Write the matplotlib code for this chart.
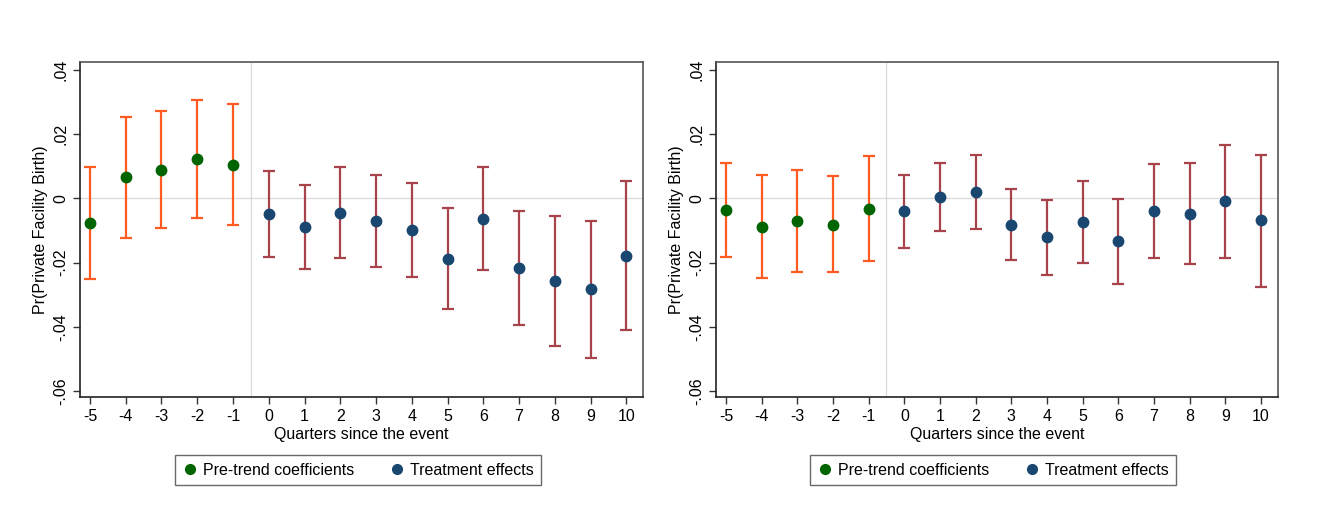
import matplotlib
matplotlib.use("Agg")
import matplotlib.pyplot as plt
from matplotlib.lines import Line2D
import numpy as np

plt.rcParams['font.family'] = ['Liberation Sans', 'DejaVu Sans']

quarters = list(range(-5, 11))

# Left panel
left_coef = [-0.0078, 0.0066, 0.0089, 0.0122, 0.0103,
             -0.0050, -0.0090, -0.0045, -0.0071, -0.0100, -0.0188, -0.0065,
             -0.0217, -0.0259, -0.0283, -0.0179]
left_hi = [0.0096, 0.0254, 0.0272, 0.0305, 0.0293,
           0.0084, 0.0042, 0.0098, 0.0072, 0.0048, -0.0030, 0.0097,
           -0.0041, -0.0055, -0.0072, 0.0053]
left_lo = [-0.0251, -0.0124, -0.0093, -0.0061, -0.0084,
           -0.0183, -0.0219, -0.0185, -0.0213, -0.0246, -0.0346, -0.0224,
           -0.0394, -0.0461, -0.0496, -0.0411]

# Right panel
right_coef = [-0.0036, -0.0090, -0.0071, -0.0082, -0.0032,
              -0.0041, 0.0003, 0.0020, -0.0082, -0.0122, -0.0074, -0.0134,
              -0.0040, -0.0048, -0.0009, -0.0069]
right_hi = [0.0110, 0.0071, 0.0089, 0.0068, 0.0131,
            0.0074, 0.0111, 0.0135, 0.0028, -0.0005, 0.0054, -0.0003,
            0.0107, 0.0110, 0.0166, 0.0136]
right_lo = [-0.0183, -0.0249, -0.0229, -0.0231, -0.0196,
            -0.0155, -0.0103, -0.0096, -0.0193, -0.0239, -0.0202, -0.0268,
            -0.0185, -0.0205, -0.0185, -0.0275]

yticks = [0.04, 0.02, 0.0, -0.02, -0.04, -0.06]
ytick_labels = ['.04', '.02', '0', '-.02', '-.04', '-.06']

GREEN = '#006400'
ORANGE = '#FF5A1F'
NAVY = '#1A476F'
MAROON = '#A8434C'
FS = 11.5

fig = plt.figure(figsize=(13.37, 5.15), dpi=100)
fig.patch.set_facecolor('white')

positions = [[0.0598, 0.229, 0.4215, 0.651], [0.5355, 0.229, 0.4205, 0.651]]
datasets = [(left_coef, left_lo, left_hi), (right_coef, right_lo, right_hi)]

for pos, (coef, lo, hi) in zip(positions, datasets):
    ax = fig.add_axes(pos)
    x = np.array(quarters)
    c = np.array(coef); l = np.array(lo); h = np.array(hi)
    pre = x < 0
    post = ~pre
    ax.axhline(0, color='#d9d9d9', lw=0.9, zorder=0)
    ax.axvline(-0.5, color='#d9d9d9', lw=0.9, zorder=0)
    ax.errorbar(x[pre], c[pre], yerr=[c[pre] - l[pre], h[pre] - c[pre]],
                fmt='none', ecolor=ORANGE, elinewidth=1.6, capsize=4, capthick=1.6, zorder=2)
    ax.errorbar(x[post], c[post], yerr=[c[post] - l[post], h[post] - c[post]],
                fmt='none', ecolor=MAROON, elinewidth=1.6, capsize=4, capthick=1.6, zorder=2)
    ax.plot(x[pre], c[pre], 'o', color=GREEN, ms=7.5, zorder=3)
    ax.plot(x[post], c[post], 'o', color=NAVY, ms=7.5, zorder=3)
    ax.set_xlim(-5.28, 10.48)
    ax.set_ylim(-0.0619, 0.0425)
    ax.set_xticks(quarters)
    ax.set_xticklabels([str(q) for q in quarters], fontsize=FS)
    ax.set_yticks(yticks)
    ax.set_yticklabels(ytick_labels, fontsize=FS, rotation=90, va='center')
    ax.tick_params(direction='out', length=5, width=1, color='#333333', top=False, right=False)
    for s in ax.spines.values():
        s.set_color('#555555')
        s.set_linewidth(1.2)
    ax.spines['left'].set_color('#222222')
    ax.spines['bottom'].set_color('#222222')
    ax.set_xlabel('Quarters since the event', fontsize=FS, labelpad=2)
    ax.set_ylabel('Pr(Private Facility Birth)', fontsize=FS, labelpad=4)
    handles = [Line2D([], [], marker='o', ls='none', color=GREEN, ms=7),
               Line2D([], [], marker='o', ls='none', color=NAVY, ms=7)]
    leg = ax.legend(handles, ['Pre-trend coefficients', 'Treatment effects'],
                    loc='center', bbox_to_anchor=(0.493, -0.218), ncol=2,
                    fontsize=FS, frameon=True, fancybox=False, edgecolor='#444444',
                    handletextpad=0.3, columnspacing=2.2, handlelength=1.0,
                    borderpad=0.45)
    leg.get_frame().set_linewidth(1.0)

fig.savefig('out.png', dpi=100, facecolor='white')
